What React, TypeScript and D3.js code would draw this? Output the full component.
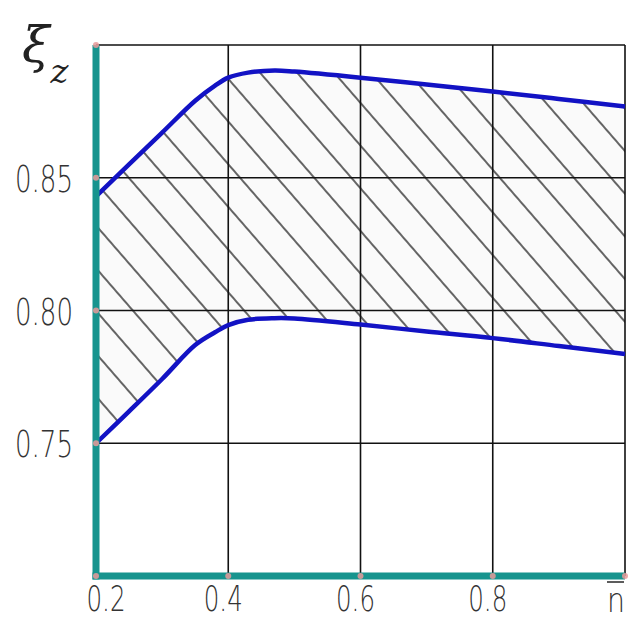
import React from "react";
import * as d3 from "d3";

const nValues = [0.2, 0.25, 0.3, 0.35, 0.38, 0.4, 0.43, 0.47, 0.5, 0.6, 0.7, 0.8, 0.9, 1.0];
const upperValues = [0.843, 0.855, 0.867, 0.879, 0.8847, 0.8877, 0.8896, 0.8904, 0.89, 0.8877, 0.8851, 0.8825, 0.8797, 0.8768];
const lowerValues = [0.75, 0.762, 0.7742, 0.787, 0.7918, 0.7945, 0.7965, 0.7971, 0.797, 0.7947, 0.7921, 0.7896, 0.7866, 0.7836];
const xTicks = [0.2, 0.4, 0.6, 0.8];
const xGrid = [0.4, 0.6, 0.8, 1.0];
const yTicks = [0.75, 0.8, 0.85];
const yGrid = [0.75, 0.8, 0.85, 0.9];
const yTickLabels = ["0.75", "0.80", "0.85"];
const xTickLabels = ["0.2", "0.4", "0.6", "0.8"];

const W = 635;
const H = 620;

type P = { n: number; u: number; l: number };

export default function App() {
  const x = d3.scaleLinear().domain([0.2, 1.0]).range([96, 625]);
  const y = d3.scaleLinear().domain([0.7, 0.9]).range([576, 45]);
  const pts: P[] = nValues.map((n, i) => ({ n, u: upperValues[i], l: lowerValues[i] }));
  const curve = d3.curveCatmullRom.alpha(0.5);
  const area = d3
    .area<P>()
    .x((d) => x(d.n))
    .y0((d) => y(d.l))
    .y1((d) => y(d.u))
    .curve(curve);
  const lineU = d3
    .line<P>()
    .x((d) => x(d.n))
    .y((d) => y(d.u))
    .curve(curve);
  const lineL = d3
    .line<P>()
    .x((d) => x(d.n))
    .y((d) => y(d.l))
    .curve(curve);
  const teal = "#17948e";
  const tickFont = { fontFamily: "DejaVu Sans", fontWeight: 200, fill: "#333" } as const;
  return (
    <div style={{ position: "absolute", left: 0, top: 0 }}>
      <svg width={W} height={H} style={{ display: "block", background: "#fff" }}>
        <defs>
          <pattern
            id="hatch"
            patternUnits="userSpaceOnUse"
            width={28}
            height={28}
            patternTransform="translate(10,0) rotate(-41)"
          >
            <line x1={1} y1={-5} x2={1} y2={35} stroke="#000" strokeWidth={1.2} />
          </pattern>
        </defs>
        {/* hatched area */}
        <path d={area(pts) || ""} fill="#fafafa" />
        <path d={area(pts) || ""} fill="url(#hatch)" />
        {/* grid */}
        {yGrid.map((v) => (
          <line key={"gy" + v} x1={x(0.2)} x2={x(1.0)} y1={y(v)} y2={y(v)} stroke="#111" strokeWidth={1.6} />
        ))}
        {xGrid.map((v) => (
          <line key={"gx" + v} x1={x(v)} x2={x(v)} y1={y(0.9)} y2={y(0.7)} stroke="#111" strokeWidth={1.6} />
        ))}
        {/* curves */}
        <path d={lineU(pts) || ""} fill="none" stroke="#1212c4" strokeWidth={4.5} strokeLinejoin="round" />
        <path d={lineL(pts) || ""} fill="none" stroke="#1212c4" strokeWidth={4.5} strokeLinejoin="round" />
        {/* axes */}
        <line x1={x(0.2)} x2={x(0.2)} y1={y(0.9)} y2={y(0.7) + 3.5} stroke={teal} strokeWidth={7} />
        <line x1={x(0.2) - 3.5} x2={x(1.0)} y1={y(0.7)} y2={y(0.7)} stroke={teal} strokeWidth={7} />
        {/* markers */}
        {yGrid.concat([0.7]).map((v) => (
          <circle key={"my" + v} cx={x(0.2)} cy={y(v)} r={3} fill="#e89a9a" opacity={0.85} />
        ))}
        {xGrid.map((v) => (
          <circle key={"mx" + v} cx={x(v)} cy={y(0.7)} r={3} fill="#e89a9a" opacity={0.85} />
        ))}
        {/* y tick labels */}
        {yTicks.map((v, i) => (
          <text
            key={"ty" + v}
            x={15}
            y={y(v) + 14}
            fontSize={38}
            textLength={58}
            lengthAdjust="spacingAndGlyphs"
            {...tickFont}
          >
            {yTickLabels[i]}
          </text>
        ))}
        {/* x tick labels */}
        {xTicks.map((v, i) => (
          <text
            key={"tx" + v}
            x={x(v) + (i === 0 ? 10 : -5)}
            y={611}
            fontSize={36}
            textLength={39}
            lengthAdjust="spacingAndGlyphs"
            textAnchor="middle"
            {...tickFont}
          >
            {xTickLabels[i]}
          </text>
        ))}
        {/* n-bar label */}
        <line x1={607} x2={624} y1={582} y2={582} stroke="#333" strokeWidth={1.6} />
        <text x={616} y={612} fontSize={34} textLength={18} lengthAdjust="spacingAndGlyphs" textAnchor="middle" {...tickFont}>
          n
        </text>
        {/* xi_z label */}
        <text x={22} y={62} fontSize={50} fontFamily="DejaVu Serif" fontStyle="italic" fill="#222">
          ξ
          <tspan dx={1} dy={21} fontSize={34}>
            z
          </tspan>
        </text>
      </svg>
    </div>
  );
}
